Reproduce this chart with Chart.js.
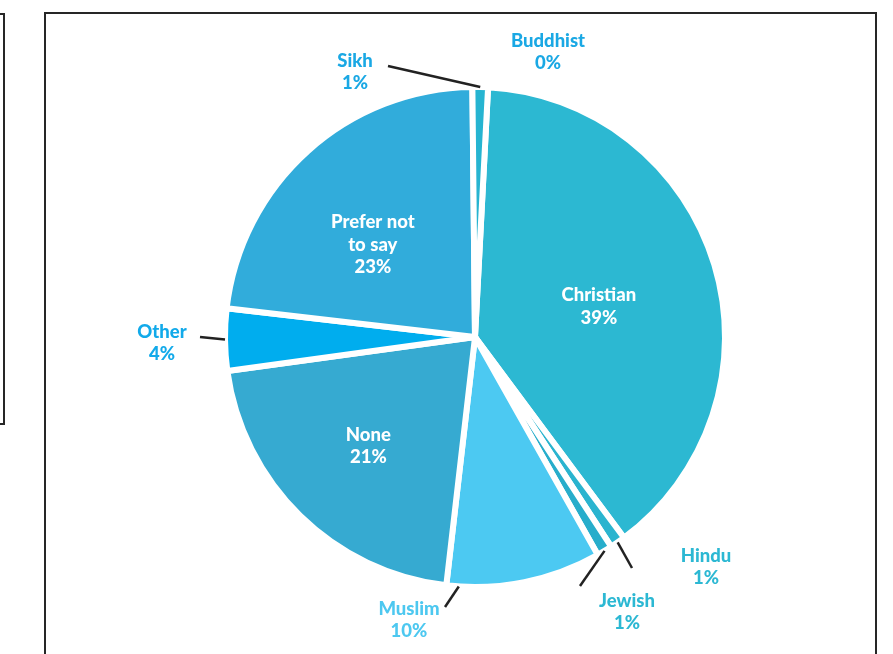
<!DOCTYPE html>
<html>
<head>
<meta charset="utf-8">
<script src="https://cdn.jsdelivr.net/npm/chart.js@4.4.1/dist/chart.umd.min.js"></script>
<style>
  html, body { margin: 0; padding: 0; background: #fff; }
  body { width: 893px; height: 654px; position: relative; overflow: hidden; }
  .frame { position: absolute; border: 2px solid #262626; box-sizing: border-box; }
  #side { left: -61px; top: 13px; width: 66px; height: 412px; }
  #main { left: 44px; top: 12px; width: 833px; height: 700px; }
  canvas { position: absolute; left: 0; top: 0; }
</style>
</head>
<body>
<div class="frame" id="side"></div>
<div class="frame" id="main"></div>
<canvas id="religionChart" width="893" height="654"></canvas>
<script>
// religion breakdown, clockwise from 12 o'clock
const religions = ['Christian', 'Hindu', 'Jewish', 'Muslim', 'None', 'Other', ['Prefer not', 'to say'], 'Sikh', 'Buddhist'];
const shares = [39, 1, 1, 10, 21, 4, 23, 1, 0];
const sliceColours = ['#2cb8d2', '#2ab4cf', '#27adcb', '#4cc9f2', '#36aad1', '#00adee', '#31acdb', '#26b4d1', '#1aa8e4'];
const labelColours = ['#ffffff', '#2cb8d3', '#2cb8d3', '#4dc8f0', '#ffffff', '#12aaea', '#ffffff', '#1aa8e4', '#1aa8e4'];

// inside: [radius as a fraction of the pie radius, angle nudge in degrees]
// text: label centre relative to the pie centre, line: leader end relative to the label
const callouts = [
  { inside: [0.51, 3] },
  { text: [231, 230], line: [-74, 1] },
  { text: [152, 275], line: [-47, -26] },
  { text: [-66, 283], line: [36, -13], anchor: 0.92 },
  { inside: [0.61, 0] },
  { text: [-313, 6], line: [38, -6] },
  { inside: [0.55, -6] },
  { text: [-120, -265], line: [33, -6] },
  { text: [73, -285] }
];

const calloutPlugin = {
  id: 'callouts',
  afterDatasetsDraw(chart) {
    const { ctx } = chart;
    const arcs = chart.getDatasetMeta(0).data;
    ctx.save();
    ctx.font = '900 18.5px Lato';
    ctx.textAlign = 'center';
    ctx.textBaseline = 'middle';
    arcs.forEach((arc, i) => {
      const c = callouts[i];
      const { x, y, startAngle, endAngle, outerRadius } = arc.getProps(['x', 'y', 'startAngle', 'endAngle', 'outerRadius'], true);
      const lines = [].concat(religions[i], shares[i] + '%');
      let tx, ty;
      if (c.inside) {
        const mid = (startAngle + endAngle) / 2 + c.inside[1] * Math.PI / 180;
        tx = x + Math.cos(mid) * outerRadius * c.inside[0];
        ty = y + Math.sin(mid) * outerRadius * c.inside[0];
      } else {
        tx = x + c.text[0];
        ty = y + c.text[1];
        if (c.line) {
          const a = startAngle + (endAngle - startAngle) * (c.anchor ?? 0.5);
          ctx.beginPath();
          ctx.moveTo(x + Math.cos(a) * outerRadius, y + Math.sin(a) * outerRadius);
          ctx.lineTo(tx + c.line[0], ty + c.line[1]);
          ctx.strokeStyle = '#222';
          ctx.lineWidth = 2.5;
          ctx.stroke();
        }
      }
      ctx.fillStyle = labelColours[i];
      lines.forEach((t, k) => ctx.fillText(t, tx, ty + (k - (lines.length - 1) / 2) * 22.5));
    });
    ctx.restore();
  }
};

function draw() {
  new Chart(document.getElementById('religionChart'), {
    type: 'pie',
    data: {
      labels: religions,
      datasets: [{
        data: shares,
        backgroundColor: sliceColours,
        borderColor: '#ffffff',
        borderWidth: 6,
        hoverOffset: 0
      }]
    },
    options: {
      responsive: false,
      animation: false,
      rotation: 3,
      radius: 250,
      layout: { padding: { left: 182, right: 125, top: 63, bottom: 43 } },
      plugins: { legend: { display: false }, tooltip: { enabled: false } }
    },
    plugins: [calloutPlugin]
  });
}

document.fonts.load('900 18.5px Lato').then(draw, draw);
</script>
</body>
</html>
